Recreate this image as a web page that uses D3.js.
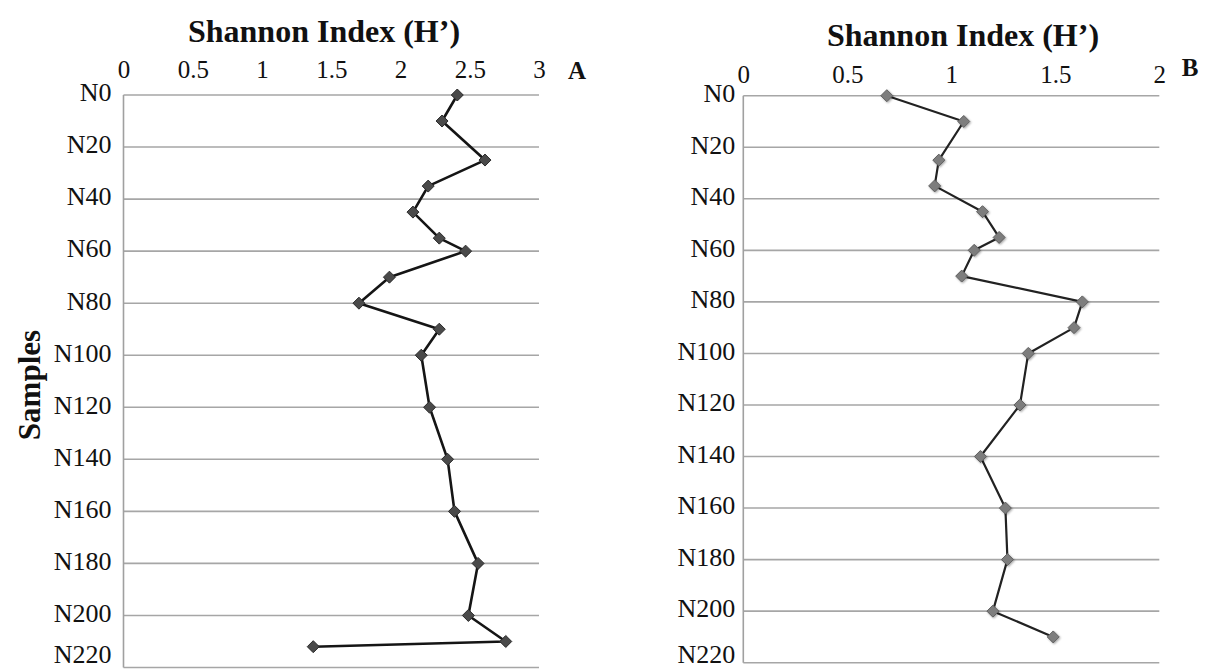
<!DOCTYPE html>
<html>
<head>
<meta charset="utf-8">
<script src="https://cdn.jsdelivr.net/npm/d3@7"></script>
<style>
  html, body { margin: 0; padding: 0; background: #fff; }
  svg { display: block; }
  svg text { font-family: "Liberation Serif", "DejaVu Serif", serif !important; fill: #111; }
</style>
</head>
<body>
<svg id="chart" width="1205" height="672" font-family="Liberation Serif"></svg>
<script>
// Sampling depths (samples N0 ... N220) and Shannon diversity per sample
const depthsA  = [0, 10, 25, 35, 45, 55, 60, 70, 80, 90, 100, 120, 140, 160, 180, 200, 210, 212];
const shannonA = [2.41, 2.30, 2.61, 2.20, 2.09, 2.28, 2.47, 1.92, 1.70, 2.28, 2.15, 2.21, 2.34, 2.39, 2.56, 2.49, 2.76, 1.37];

const depthsB  = [0, 10, 25, 35, 45, 55, 60, 70, 80, 90, 100, 120, 140, 160, 180, 200, 210];
const shannonB = [0.69, 1.06, 0.94, 0.92, 1.15, 1.23, 1.11, 1.05, 1.63, 1.59, 1.37, 1.33, 1.14, 1.26, 1.27, 1.20, 1.49];

const sampleTicks = [0, 20, 40, 60, 80, 100, 120, 140, 160, 180, 200, 220];
const xTicksA = [0, 0.5, 1, 1.5, 2, 2.5, 3];
const xTicksB = [0, 0.5, 1, 1.5, 2];

const SERIF = "Liberation Serif";
const svg = d3.select("#chart");

const panels = [
  {
    key: "A", depths: depthsA, values: shannonA, xMax: 3, xTicks: xTicksA,
    xRange: [123.5, 539], yRange: [95, 667.5],
    titleX: 324, titleY: 42, tickPad: 17, labelGap: 12, letterX: 577, letterY: 79,
    markerFill: "#4a4a4a", markerStroke: "#2a2a2a", lineColor: "#151515", lineWidth: 2.6, shadow: false
  },
  {
    key: "B", depths: depthsB, values: shannonB, xMax: 2, xTicks: xTicksB,
    xRange: [743.3, 1159.3], yRange: [95.7, 662.7],
    titleX: 963, titleY: 46, tickPad: 12.5, labelGap: 8, letterX: 1190, letterY: 76,
    markerFill: "#7d7d7d", markerStroke: "#5f5f5f", lineColor: "#222", lineWidth: 2.2, shadow: true
  }
];

// soft shadow used under the lighter markers
const defs = svg.append("defs");
const f = defs.append("filter").attr("id", "mshadow").attr("x", "-50%").attr("y", "-50%").attr("width", "200%").attr("height", "200%");
f.append("feDropShadow").attr("dx", 1).attr("dy", 1).attr("stdDeviation", 1.2).attr("flood-color", "#000").attr("flood-opacity", 0.35);

// diamond marker path centred on the origin
const diamond = r => `M0,${-r}L${r},0L0,${r}L${-r},0Z`;

panels.forEach(p => {
  const x = d3.scaleLinear().domain([0, p.xMax]).range(p.xRange);
  const y = d3.scaleLinear().domain([0, 220]).range(p.yRange);
  const g = svg.append("g").attr("class", "panel-" + p.key);

  // horizontal gridlines
  g.append("g").selectAll("line").data(sampleTicks).join("line")
    .attr("x1", p.xRange[0]).attr("x2", p.xRange[1])
    .attr("y1", d => y(d)).attr("y2", d => y(d))
    .attr("stroke", "#a6a6a6").attr("stroke-width", 1.6);

  // vertical axis line
  g.append("line")
    .attr("x1", p.xRange[0]).attr("x2", p.xRange[0])
    .attr("y1", p.yRange[0]).attr("y2", p.yRange[1])
    .attr("stroke", "#a0a0a0").attr("stroke-width", 1.6);

  // top value axis
  const xAxis = d3.axisTop(x).tickValues(p.xTicks).tickSize(0).tickPadding(p.tickPad)
    .tickFormat(d3.format("~g"));
  const ax = g.append("g").attr("transform", `translate(0,${p.yRange[0]})`).call(xAxis)
    .attr("font-family", SERIF).attr("font-size", 25);
  ax.select(".domain").remove();
  ax.selectAll("text").attr("fill", "#111");

  // sample labels on the left
  const yAxis = d3.axisLeft(y).tickValues(sampleTicks).tickSize(0).tickPadding(p.labelGap)
    .tickFormat(d => "N" + d);
  const ay = g.append("g").attr("transform", `translate(${p.xRange[0]},0)`).call(yAxis)
    .attr("font-family", SERIF).attr("font-size", 26);
  ay.select(".domain").remove();
  ay.selectAll(".tick").attr("transform", d => `translate(0,${Math.min(y(d) - 2, 655)})`);
  ay.selectAll("text").attr("fill", "#111");

  // titles
  g.append("text").attr("x", p.titleX).attr("y", p.titleY).attr("text-anchor", "middle")
    .attr("font-family", SERIF).attr("font-size", 32).attr("font-weight", "bold")
    .text("Shannon Index (H’)");
  g.append("text").attr("x", p.letterX).attr("y", p.letterY).attr("text-anchor", "middle")
    .attr("font-family", SERIF).attr("font-size", 25).attr("font-weight", "bold").text(p.key);

  // series line
  const pts = p.depths.map((d, i) => [x(p.values[i]), y(d)]);
  g.append("path").datum(pts)
    .attr("d", d3.line())
    .attr("fill", "none").attr("stroke", p.lineColor).attr("stroke-width", p.lineWidth)
    .attr("stroke-linejoin", "round");

  // markers
  g.append("g").selectAll("path").data(pts).join("path")
    .attr("transform", d => `translate(${d[0]},${d[1]})`)
    .attr("d", diamond(6))
    .attr("fill", p.markerFill).attr("stroke", p.markerStroke).attr("stroke-width", 1)
    .attr("filter", p.shadow ? "url(#mshadow)" : null);
});

// shared axis title
svg.append("text")
  .attr("transform", "translate(40,385) rotate(-90)")
  .attr("text-anchor", "middle").attr("font-family", SERIF)
  .attr("font-size", 31).attr("font-weight", "bold")
  .text("Samples");
</script>
</body>
</html>
